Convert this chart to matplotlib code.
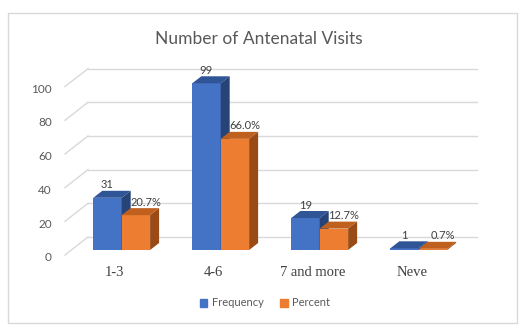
import matplotlib
matplotlib.use("Agg")
import matplotlib.pyplot as plt
from matplotlib.patches import Polygon, Patch, Rectangle

categories = ["1-3", "4-6", "7 and more", "Neve"]
frequency = [31, 99, 19, 1]
percent = [20.7, 66.0, 12.7, 0.7]
yticks = [0, 20, 40, 60, 80, 100]

blue = ["#4472C4", "#2F5597", "#264478"]     # front, top, side
orange = ["#ED7D31", "#C0601E", "#9A4A14"]
grid_c = "#D9D9D9"
text_c = "#595959"

plt.rcParams["font.family"] = ["Lato", "DejaVu Sans"]

W, H = 532, 336
fig = plt.figure(figsize=(W / 100, H / 100), dpi=100)

# plot area of the bar plane, in pixels
left, right = 71.4, 460.4
y0_px, y100_px = 250, 81.6
ax = fig.add_axes([left / W, (H - y0_px) / H, (right - left) / W, (y0_px - y100_px) / H])
xlim = (-0.508, 3.421)
ax.set_xlim(*xlim)
ax.set_ylim(0, 100)
ax.axis("off")

sx = (right - left) / (xlim[1] - xlim[0])
sy = (y0_px - y100_px) / 100


def px(dx, dy):
    return dx / sx, dy / sy


# back wall gridlines and side wall diagonals
bx, by = px(16.6, 13)
fx, fy = px(-6.4, -5)
for t in yticks:
    ax.plot([xlim[0] + bx, xlim[1] + bx], [t + by, t + by], color=grid_c, lw=1, clip_on=False, zorder=1)
    ax.plot([xlim[0] + fx, xlim[0] + bx], [t + fy, t + by], color=grid_c, lw=1, clip_on=False, zorder=1)
    ax.annotate(str(t), (xlim[0], t), xytext=(-19.4, -7.7), textcoords="offset pixels",
                ha="right", va="center", fontsize=8.5, color=text_c)

w = 0.287
dx, dy = px(9, 7)
x = list(range(len(categories)))


def draw_bars(xs, vals, cols, z):
    ax.bar(xs, vals, w, color=cols[0], clip_on=False, zorder=z, linewidth=0)
    for xc, v in zip(xs, vals):
        xl, xr = xc - w / 2, xc + w / 2
        top = [(xl, v), (xr, v), (xr + dx, v + dy), (xl + dx, v + dy)]
        side = [(xr, 0), (xr, v), (xr + dx, v + dy), (xr + dx, dy)]
        ax.add_patch(Polygon(top, closed=True, fc=cols[1], ec="none", clip_on=False, zorder=z))
        ax.add_patch(Polygon(side, closed=True, fc=cols[2], ec="none", clip_on=False, zorder=z))


xb = [i - w / 2 for i in x]
xo = [i + w / 2 for i in x]
draw_bars(xb, frequency, blue, 3)
draw_bars(xo, percent, orange, 4)

for xc, v in zip(xb, frequency):
    ax.annotate(str(v), (xc, v), xytext=(0, 13), textcoords="offset pixels",
                ha="center", va="center", fontsize=8, color="#404040", zorder=6)
for xc, v in zip(xo, percent):
    ax.annotate(f"{v:.1f}%", (xc, v), xytext=(10, 13), textcoords="offset pixels",
                ha="center", va="center", fontsize=8, color="#404040", zorder=6)

for i, c in zip(x, categories):
    ax.annotate(c, (i, 0), xytext=(-7, -22), textcoords="offset pixels",
                ha="center", va="center", fontsize=10.5, color="#404040",
                family="Liberation Serif")

fig.text(258.5 / W, 1 - 38.5 / H, "Number of Antenatal Visits", ha="center", va="center",
         fontsize=12.5, color=text_c)

handles = [Patch(color=blue[0], label="Frequency"), Patch(color=orange[0], label="Percent")]
fig.legend(handles=handles, loc="center", bbox_to_anchor=(265 / W, 1 - 303 / H), ncol=2,
           frameon=False, fontsize=8, handlelength=0.7, handleheight=0.7,
           handletextpad=0.4, columnspacing=1.5, labelcolor=text_c)

fig.add_artist(Rectangle((8 / W, 1 - 323 / H), 509 / W, 310 / H, transform=fig.transFigure,
                         fill=False, ec=grid_c, lw=1))

fig.savefig("out.png", dpi=100)
